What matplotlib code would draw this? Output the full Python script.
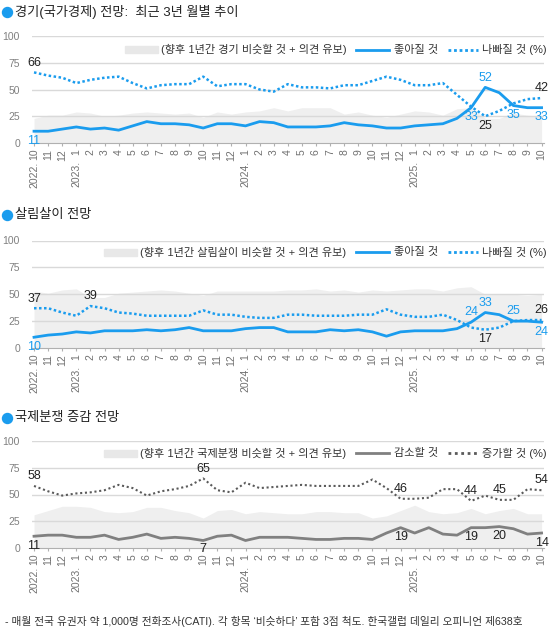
import matplotlib
matplotlib.use('Agg')
import matplotlib.pyplot as plt
from matplotlib.lines import Line2D
from matplotlib.patches import Rectangle

plt.rcParams['font.family'] = ['Liberation Sans', 'Noto Sans CJK KR']

W, H = 558, 635
BLUE = '#1A9CEE'
GREY_LINE = '#808080'
GREY_DOT = '#5a5a5a'
AREA = '#efefef'
DARK = '#222222'

months = ['10', '11', '12', '1', '2', '3', '4', '5', '6', '7', '8', '9', '10', '11', '12',
          '1', '2', '3', '4', '5', '6', '7', '8', '9', '10', '11', '12',
          '1', '2', '3', '4', '5', '6', '7', '8', '9', '10']
year_labels = ['2022.', '2023.', '2024.', '2025.']
year_pos = [0, 3, 15, 27]

# 경기(국가경제) 전망
econ_good = [11, 11, 13, 15, 13, 14, 12, 16, 20, 18, 18, 17, 14, 18, 18, 16, 20, 19, 15,
             15, 15, 16, 19, 17, 16, 14, 14, 16, 17, 18, 23, 33, 52, 47, 35, 33, 33]
econ_bad = [66, 63, 61, 56, 59, 61, 62, 56, 51, 54, 55, 55, 62, 53, 55, 55, 50, 48, 55,
            52, 52, 51, 54, 54, 58, 62, 59, 54, 54, 56, 45, 34, 25, 30, 37, 41, 42]
econ_same = [23, 26, 26, 29, 28, 25, 26, 28, 29, 28, 27, 28, 24, 29, 27, 29, 30, 33, 30,
             33, 33, 33, 27, 29, 26, 24, 27, 30, 29, 26, 32, 33, 23, 23, 28, 26, 25]

# 살림살이 전망
live_good = [10, 12, 13, 15, 14, 16, 16, 16, 17, 16, 17, 19, 16, 16, 16, 18, 19, 19, 15,
             15, 15, 17, 16, 17, 15, 11, 15, 16, 16, 16, 18, 24, 33, 31, 25, 25, 24]
live_bad = [37, 37, 33, 30, 39, 37, 33, 32, 30, 30, 30, 30, 35, 31, 31, 29, 28, 28, 31,
            31, 30, 30, 30, 31, 31, 36, 31, 29, 29, 31, 26, 19, 17, 19, 25, 26, 26]
live_same = [53, 51, 54, 55, 47, 47, 51, 52, 53, 54, 53, 51, 49, 53, 53, 53, 53, 53, 54,
             54, 55, 53, 54, 52, 54, 53, 54, 55, 55, 53, 56, 57, 50, 50, 50, 49, 50]

# 국제분쟁 증감 전망
conf_down = [11, 12, 12, 10, 10, 12, 8, 10, 13, 9, 10, 9, 7, 11, 12, 7, 10, 10, 10,
             9, 8, 8, 9, 9, 8, 14, 19, 14, 19, 13, 12, 19, 19, 20, 18, 13, 14]
conf_up = [58, 53, 49, 51, 52, 54, 59, 56, 49, 53, 55, 58, 65, 54, 52, 61, 56, 57, 58,
           59, 58, 58, 58, 58, 64, 56, 46, 46, 47, 55, 55, 44, 49, 45, 45, 55, 54]
conf_same = [31, 35, 39, 39, 38, 34, 33, 34, 38, 38, 35, 33, 28, 35, 36, 32, 34, 33, 32,
             32, 34, 34, 33, 33, 28, 30, 35, 40, 34, 32, 33, 37, 32, 35, 37, 32, 32]

fig = plt.figure(figsize=(W / 100, H / 100), dpi=100)
renderer = fig.canvas.get_renderer()


def fx(x):
    return x / W


def fy(y):
    return 1 - y / H


def make_axes(top_px, bottom_px):
    ax = fig.add_axes([fx(31.9), fy(bottom_px), fx(543.7) - fx(31.9), (bottom_px - top_px) / H])
    ax.set_xlim(-0.15, 36.15)
    ax.set_ylim(0, 100)
    for s in ['top', 'right', 'left']:
        ax.spines[s].set_visible(False)
    ax.spines['bottom'].set_color('#b0b0b0')
    ax.spines['bottom'].set_zorder(5)
    ax.set_yticks([0, 25, 50, 75, 100])
    ax.tick_params(axis='y', length=0, pad=8.6, labelsize=7.5, labelcolor='#808080')
    for v in [25, 50, 75, 100]:
        ax.axhline(v, color='#d9d9d9', lw=1, zorder=1.5)
    ax.set_xticks(range(len(months)))
    ax.set_xticklabels(months, rotation=90, va='top', ha='center')
    ax.tick_params(axis='x', length=2.2, width=0.8, color='#b0b0b0', pad=2,
                   labelsize=7.5, labelcolor='#707070')
    for lab, p in zip(year_labels, year_pos):
        ax.annotate(lab, xy=(p, 0), xycoords=('data', 'axes fraction'),
                    xytext=(0, -13.2), textcoords='offset points', rotation=90,
                    ha='center', va='top', fontsize=7.5, color='#707070')
    return ax


def title(y_px, text):
    fig.add_artist(Line2D([fx(7)], [fy(y_px)], marker='o', ms=7.2, color=BLUE,
                          transform=fig.transFigure))
    fig.text(fx(15), fy(y_px), text, ha='left', va='center', fontsize=9.5, color=DARK)


def legend(y_px, same_txt, a_txt, b_txt, col_a, col_b, a_style, b_style):
    y = fy(y_px)
    x = 547
    t = fig.text(fx(x), y, b_txt, ha='right', va='center', fontsize=8, color='#333333')
    x -= t.get_window_extent(renderer).width + 4
    fig.add_artist(Line2D([fx(x - 30), fx(x)], [y, y], color=col_b, lw=2, ls=b_style,
                          transform=fig.transFigure))
    x -= 30 + 10
    t = fig.text(fx(x), y, a_txt, ha='right', va='center', fontsize=8, color='#333333')
    x -= t.get_window_extent(renderer).width + 5
    fig.add_artist(Line2D([fx(x - 33), fx(x)], [y, y], color=col_a, lw=2, ls=a_style,
                          transform=fig.transFigure))
    x -= 33 + 10
    t = fig.text(fx(x), y, same_txt, ha='right', va='center', fontsize=8, color='#333333')
    x -= t.get_window_extent(renderer).width + 3
    fig.add_artist(Rectangle((fx(x - 33), fy(y_px + 3.5)), fx(33), 7 / H, color='#e8e8e8',
                             transform=fig.transFigure))


def label(ax, i, v, up, color, off=7):
    ax.annotate(str(v), xy=(i, v), xytext=(0, off if up else -off), textcoords='offset points',
                ha='center', va='center', fontsize=9, color=color, zorder=6)


DOT = (0, (1, 1))
DOT3 = (0, (1, 1.3))
x = list(range(len(months)))

# panel 1
ax1 = make_axes(36, 143)
ax1.fill_between(x, 0, econ_same, color=AREA, lw=0, zorder=1)
ax1.plot(x, econ_bad, color=BLUE, lw=1.8, ls=DOT, zorder=3)
ax1.plot(x, econ_good, color=BLUE, lw=2, zorder=4)
for i, up in [(0, True), (32, False), (36, True)]:
    label(ax1, i, econ_bad[i], up, DARK)
for i, up in [(0, False), (31, False), (32, True), (34, False), (36, False)]:
    label(ax1, i, econ_good[i], up, BLUE)
title(12, '경기(국가경제) 전망:  최근 3년 월별 추이')
legend(49.5, '(향후 1년간 경기 비슷할 것 + 의견 유보)', '좋아질 것', '나빠질 것 (%)',
       BLUE, BLUE, '-', DOT)

# panel 2
ax2 = make_axes(240.5, 348)
ax2.fill_between(x, 0, live_same, color=AREA, lw=0, zorder=1)
ax2.plot(x, live_bad, color=BLUE, lw=1.8, ls=DOT, zorder=3)
ax2.plot(x, live_good, color=BLUE, lw=2, zorder=4)
for i, up in [(0, True), (4, True), (32, False), (36, True)]:
    label(ax2, i, live_bad[i], up, DARK)
for i, up in [(0, False), (31, True), (32, True), (34, True), (36, False)]:
    label(ax2, i, live_good[i], up, BLUE)
title(215, '살림살이 전망')
legend(252, '(향후 1년간 살림살이 비슷할 것 + 의견 유보)', '좋아질 것', '나빠질 것 (%)',
       BLUE, BLUE, '-', DOT)

# panel 3
ax3 = make_axes(441, 548)
ax3.fill_between(x, 0, conf_same, color=AREA, lw=0, zorder=1)
ax3.plot(x, conf_up, color=GREY_DOT, lw=1.5, ls=DOT3, zorder=3)
ax3.plot(x, conf_down, color=GREY_LINE, lw=2, zorder=4)
for i in [0, 12, 26, 31, 33, 36]:
    label(ax3, i, conf_up[i], True, DARK)
for i in [0, 12, 26, 31, 33, 36]:
    label(ax3, i, conf_down[i], False, DARK, off=6 if i == 12 else 7)
title(418, '국제분쟁 증감 전망')
legend(453, '(향후 1년간 국제분쟁 비슷할 것 + 의견 유보)', '감소할 것', '증가할 것 (%)',
       GREY_LINE, GREY_DOT, '-', DOT3)

fig.text(fx(5), fy(621), '- 매월 전국 유권자 약 1,000명 전화조사(CATI). 각 항목 ‘비슷하다’ 포함 3점 척도. 한국갤럽 데일리 오피니언 제638호',
         ha='left', va='center', fontsize=7.7, color='#333333')

fig.savefig('out.png', dpi=100)
